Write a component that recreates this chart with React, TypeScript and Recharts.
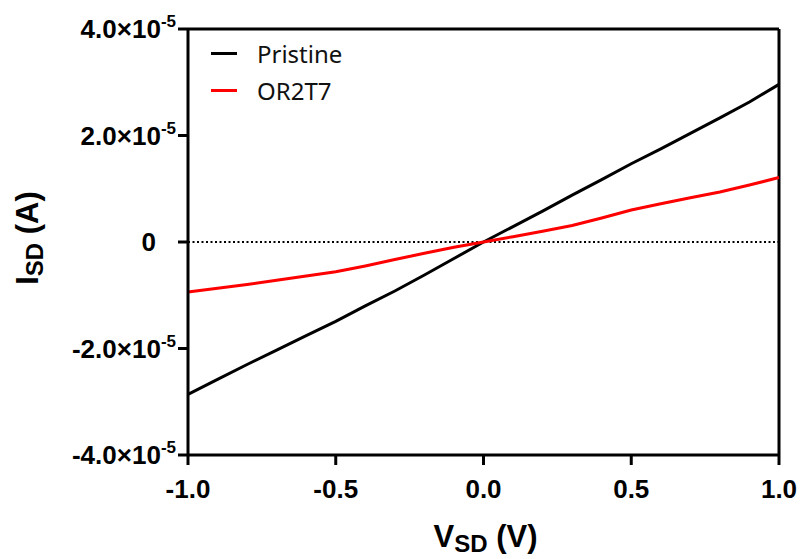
import React from "react";
import { LineChart, Line, XAxis, YAxis, ReferenceLine } from "recharts";

const voltage = [-1, -0.9, -0.8, -0.7, -0.6, -0.5, -0.4, -0.3, -0.2, -0.1, 0, 0.1, 0.2, 0.3, 0.4, 0.5, 0.6, 0.7, 0.8, 0.9, 1];
const pristine = [
  -2.86e-5, -2.58e-5, -2.3e-5, -2.03e-5, -1.76e-5, -1.49e-5, -1.2e-5, -0.92e-5, -0.62e-5, -0.31e-5, 0,
  0.29e-5, 0.58e-5, 0.88e-5, 1.17e-5, 1.47e-5, 1.75e-5, 2.04e-5, 2.33e-5, 2.63e-5, 2.96e-5,
];
const or2t7 = [
  -0.94e-5, -0.87e-5, -0.8e-5, -0.72e-5, -0.64e-5, -0.56e-5, -0.45e-5, -0.33e-5, -0.21e-5, -0.1e-5, 0,
  0.1e-5, 0.2e-5, 0.31e-5, 0.45e-5, 0.6e-5, 0.72e-5, 0.83e-5, 0.94e-5, 1.07e-5, 1.21e-5,
];
const xTicks = [-1, -0.5, 0, 0.5, 1];
const yTicks = [-4e-5, -2e-5, 0, 2e-5, 4e-5];

const data = voltage.map((v, i) => ({ v, pristine: pristine[i], or2t7: or2t7[i] }));

const AXIS_FONT = "'Liberation Sans', Arial, sans-serif";

function YTick(props: any) {
  const { x, y, payload } = props;
  const v = payload.value;
  if (v === 0) {
    return (
      <text x={x - 20} y={y + 9} textAnchor="end" fontFamily={AXIS_FONT} fontWeight="bold" fontSize={26} fill="#000">
        0
      </text>
    );
  }
  return (
    <text x={x} y={y + 9} textAnchor="end" fontFamily={AXIS_FONT} fontWeight="bold" fontSize={26} fill="#000">
      <tspan>{(v / 1e-5).toFixed(1)}×10</tspan>
      <tspan fontSize={17} dy={-11}>-5</tspan>
    </text>
  );
}

function XTitle(props: any) {
  const { viewBox } = props;
  const cx = viewBox.x + viewBox.width / 2;
  return (
    <text x={cx + 2} y={viewBox.y + 92} textAnchor="middle" fontFamily={AXIS_FONT} fontWeight="bold" fontSize={31} fill="#000">
      <tspan>V</tspan>
      <tspan fontSize={24} dy={5}>SD</tspan>
      <tspan dy={-5}> (V)</tspan>
    </text>
  );
}

function YTitle(props: any) {
  const { viewBox } = props;
  const cy = viewBox.y + viewBox.height / 2 - 4;
  const x = 38;
  return (
    <text
      x={x}
      y={cy}
      transform={`rotate(-90, ${x}, ${cy})`}
      textAnchor="middle"
      fontFamily={AXIS_FONT}
      fontWeight="bold"
      fontSize={31}
      fill="#000"
    >
      <tspan>I</tspan>
      <tspan fontSize={24} dy={5}>SD</tspan>
      <tspan dy={-5}> (A)</tspan>
    </text>
  );
}

const legendItems = [
  { name: "Pristine", color: "#000000" },
  { name: "OR2T7", color: "#ff0000" },
];

export default function App() {
  return (
    <div style={{ position: "absolute", left: 0, top: 0, width: 805, height: 559, background: "#fff" }}>
      <LineChart width={805} height={559} data={data} margin={{ top: 29, right: 26, bottom: 0, left: 0 }}>
        <XAxis
          dataKey="v"
          type="number"
          domain={[-1, 1]}
          ticks={xTicks}
          tickFormatter={(t: number) => t.toFixed(1)}
          height={104}
          axisLine={{ stroke: "#000", strokeWidth: 3 }}
          tickLine={{ stroke: "#000", strokeWidth: 3 }}
          tickSize={10}
          tickMargin={15}
          tick={{ fill: "#000", fontSize: 26, fontWeight: "bold", fontFamily: AXIS_FONT }}
          label={{ content: XTitle }}
        />
        <YAxis
          type="number"
          domain={[-4e-5, 4e-5]}
          ticks={yTicks}
          width={188}
          axisLine={{ stroke: "#000", strokeWidth: 3 }}
          tickLine={{ stroke: "#000", strokeWidth: 3 }}
          tickSize={10}
          tick={<YTick />}
          label={{ content: YTitle }}
        />
        <ReferenceLine y={0} stroke="#000" strokeWidth={2} strokeDasharray="2 2.5" />
        <ReferenceLine y={4e-5} stroke="#000" strokeWidth={3} />
        <ReferenceLine x={1} stroke="#000" strokeWidth={3} />
        <Line type="linear" dataKey="pristine" name="Pristine" stroke="#000000" strokeWidth={3} dot={false} isAnimationActive={false} />
        <Line type="linear" dataKey="or2t7" name="OR2T7" stroke="#ff0000" strokeWidth={3} dot={false} isAnimationActive={false} />
      </LineChart>
      <div
        style={{
          position: "absolute",
          left: 211,
          top: 35,
          fontFamily: "'Noto Sans', sans-serif",
          fontSize: 24,
          color: "#111",
        }}
      >
        {legendItems.map((it) => (
          <div key={it.name} style={{ display: "flex", alignItems: "center", height: 37 }}>
            <div style={{ width: 26, height: 3, background: it.color, marginRight: 20 }} />
            <span>{it.name}</span>
          </div>
        ))}
      </div>
    </div>
  );
}
